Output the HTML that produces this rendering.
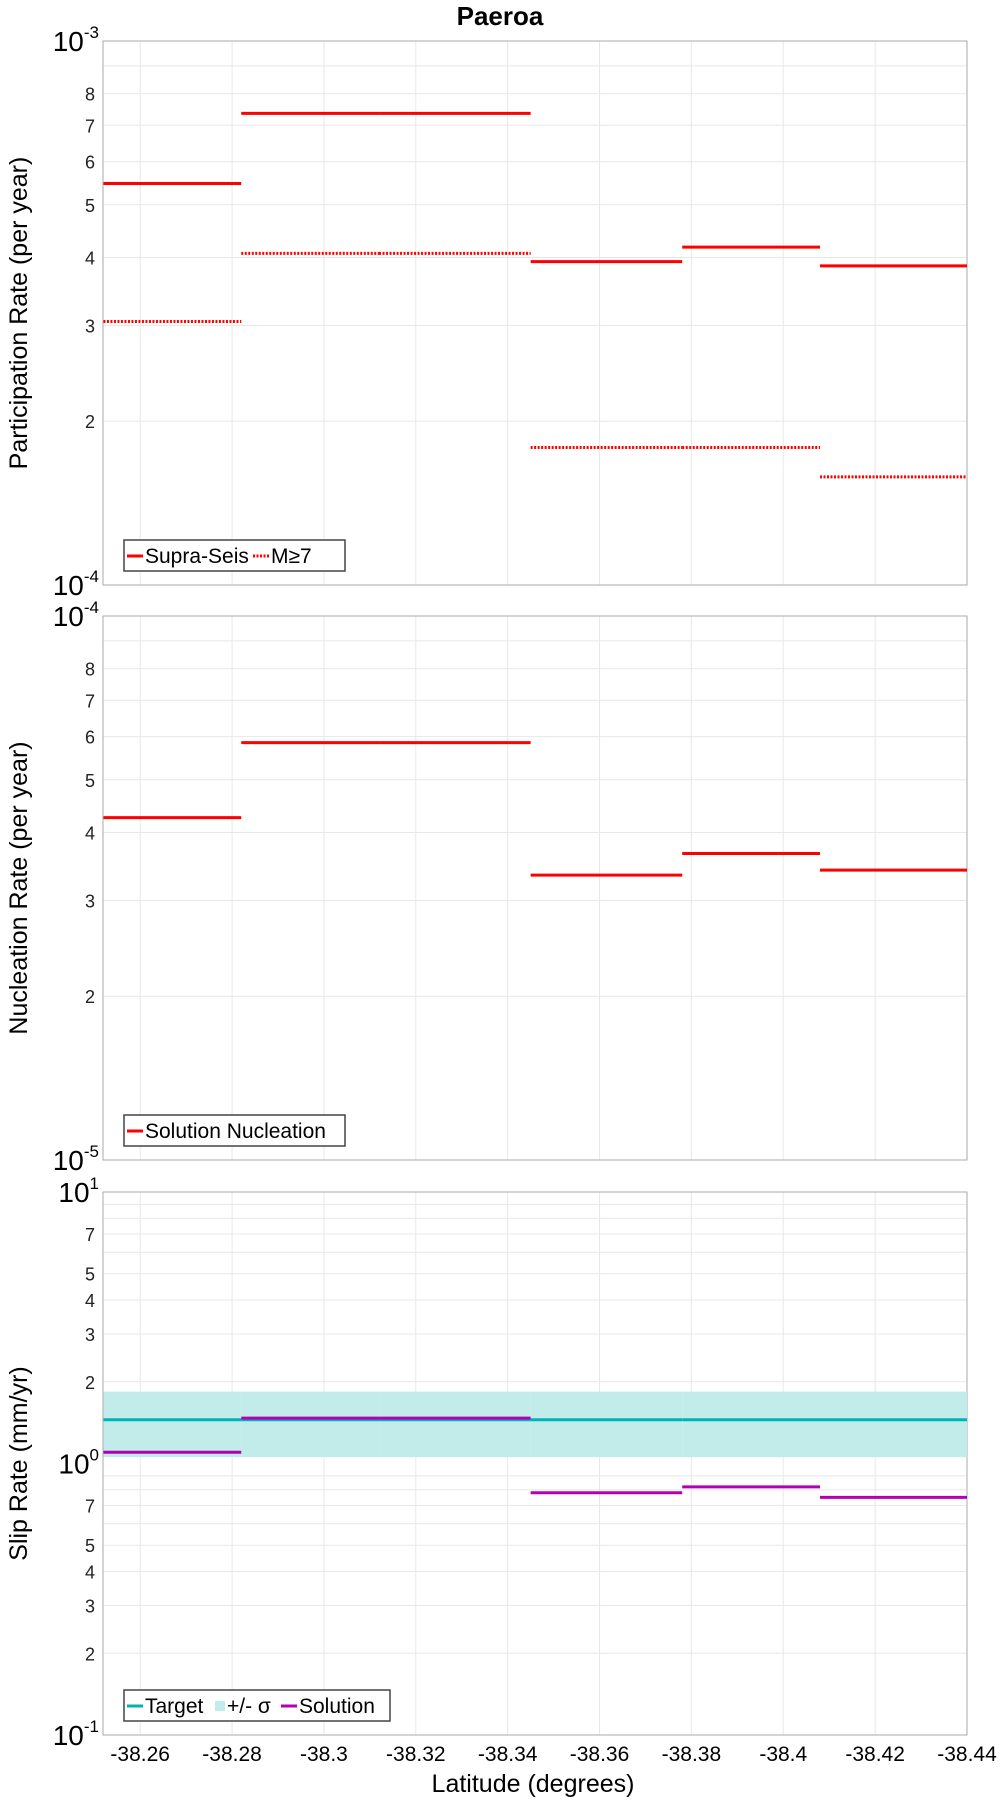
<!DOCTYPE html>
<html><head><meta charset="utf-8"><style>
body{margin:0;background:#fff}
svg{display:block;font-family:"Liberation Sans","DejaVu Sans",sans-serif}
</style></head><body>
<svg id="c" width="1000" height="1800" viewBox="0 0 1000 1800" xmlns="http://www.w3.org/2000/svg">
<text x="500" y="25" text-anchor="middle" font-size="26" font-weight="bold">Paeroa</text>
</svg>
<script>
const bounds = [-38.252, -38.282, -38.312, -38.345, -38.378, -38.408, -38.44];
const xTicks = [-38.26, -38.28, -38.3, -38.32, -38.34, -38.36, -38.38, -38.4, -38.42, -38.44];
const xTickLabels = ["-38.26","-38.28","-38.3","-38.32","-38.34","-38.36","-38.38","-38.4","-38.42","-38.44"];
const supraSeis = [5.47e-4, 7.36e-4, 7.36e-4, 3.93e-4, 4.18e-4, 3.86e-4];
const m7 = [3.05e-4, 4.07e-4, 4.07e-4, 1.79e-4, 1.79e-4, 1.58e-4];
const nucleation = [4.26e-5, 5.85e-5, 5.85e-5, 3.34e-5, 3.66e-5, 3.41e-5];
const target = [1.45, 1.45, 1.45, 1.45, 1.45, 1.45];
const sigmaLow = [1.055, 1.055, 1.055, 1.055, 1.055, 1.055];
const sigmaHigh = [1.84, 1.84, 1.84, 1.84, 1.84, 1.84];
const solution = [1.1, 1.47, 1.47, 0.78, 0.82, 0.75];

const svg = document.getElementById('c');
const NS = 'http://www.w3.org/2000/svg';
const L = 103, R = 967;
const xMin = -38.2519, xMax = -38.44;
function xs(v){ return L + (v - xMin) / (xMax - xMin) * (R - L); }
function mk(tag, attrs, parent){ const e = document.createElementNS(NS, tag); for (const k in attrs) e.setAttribute(k, attrs[k]); (parent||svg).appendChild(e); return e; }

function panel(top, bottom, dMin, dMax, labelDigits, title, name){
  const g = mk('g', {});
  
  
  const ys = v => bottom - (Math.log10(v) - dMin) / (dMax - dMin) * (bottom - top);
  for (let d = dMin; d < dMax; d++) {
    for (let m = 1; m <= 9; m++) {
      const v = m * Math.pow(10, d);
      const y = ys(v);
      if (m > 1) {
        const gl = mk('line', {x1:L, x2:R, y1:y, y2:y, stroke:'#e8e8e8', 'stroke-width':1}, g);
        
        
        if (labelDigits.includes(m)) {
          const t = mk('text', {x:L-8, y:y+7, 'text-anchor':'end', 'font-size':18, fill:'#222'}, g);
          
          
          t.textContent = m;
        }
      }
    }
  }
  for (let d = dMin; d <= dMax; d++) {
    const y = ys(Math.pow(10, d));
    const t = mk('text', {x:L-4, y:y+10, 'text-anchor':'end', 'font-size':28, fill:'#000'}, g);
    
    
    t.innerHTML = '10<tspan dy="-13" font-size="17">' + d + '</tspan>';
  }
  xTicks.forEach((v) => {
    const x = xs(v);
    const gl = mk('line', {x1:x, x2:x, y1:top, y2:bottom, stroke:'#e8e8e8', 'stroke-width':1}, g);
    
    
  });
  const fr = mk('rect', {x:L, y:top, width:R-L, height:bottom-top, fill:'none', stroke:'#aaa', 'stroke-width':1}, g);
  
  
  const cy = (top + bottom) / 2;
  const t = mk('text', {x:0, y:0, transform:`translate(27,${cy}) rotate(-90)`, 'text-anchor':'middle', 'font-size':25, fill:'#000'}, g);
  
  
  t.textContent = title;
  return {g, ys};
}
function steps(p, vals, color, dash, name){
  vals.forEach((v, i) => {
    const y = p.ys(v);
    const a = {x1:xs(bounds[i]), x2:xs(bounds[i+1]), y1:y, y2:y, stroke:color, 'stroke-width':3};
    if (dash) a['stroke-dasharray'] = '2,1.5';
    const l = mk('line', a, p.g);
    
    
  });
}
function legend(g, x, y, w, items){
  const r = mk('rect', {x:x, y:y, width:w, height:31, fill:'#fff', stroke:'#444', 'stroke-width':1.5}, g);
  
  
  let cx = x + 3;
  items.forEach(it => {
    let sw;
    if (it.band) sw = mk('rect', {x:cx, y:y+11, width:10, height:10, fill:it.color}, g);
    else { sw = mk('line', {x1:cx, x2:cx+16, y1:y+16, y2:y+16, stroke:it.color, 'stroke-width':3}, g); if (it.dash) sw.setAttribute('stroke-dasharray','2,1.5'); }
    
    
    cx += it.band ? 12 : 18;
    const t = mk('text', {x:cx, y:y+23, 'font-size':21, fill:'#000'}, g);
    
    
    t.textContent = it.label;
    cx += it.w;
  });
}

const p1 = panel(41, 585, -4, -3, [2,3,4,5,6,7,8], 'Participation Rate (per year)', 'participation-panel');
steps(p1, supraSeis, '#ff0000', false, 'supra-seis-step');
steps(p1, m7, '#ff0000', true, 'm7-step');
legend(p1.g, 124, 540, 221, [{label:'Supra-Seis', color:'#f00', w:108},{label:'M≥7', color:'#f00', dash:true, w:50}]);

const p2 = panel(616, 1160, -5, -4, [2,3,4,5,6,7,8], 'Nucleation Rate (per year)', 'nucleation-panel');
steps(p2, nucleation, '#ff0000', false, 'nucleation-step');
legend(p2.g, 124, 1115, 221, [{label:'Solution Nucleation', color:'#f00', w:200}]);

const p3 = panel(1192, 1735, -1, 1, [2,3,4,5,7], 'Slip Rate (mm/yr)', 'slip-rate-panel');
sigmaLow.forEach((v, i) => {
  const y1 = p3.ys(sigmaHigh[i]), y2 = p3.ys(v);
  const r = mk('rect', {x:xs(bounds[i]), y:y1, width:xs(bounds[i+1])-xs(bounds[i]), height:y2-y1, fill:'#c2ecea'}, p3.g);
  
  
});
steps(p3, target, '#00b4b4', false, 'target-step');
steps(p3, solution, '#b400b4', false, 'solution-step');
legend(p3.g, 124, 1690, 266, [{label:'Target', color:'#00b4b4', w:70},{label:'+/- σ', color:'#c2ecea', band:true, w:54},{label:'Solution', color:'#b400b4', w:90}]);

xTicks.forEach((v, i) => {
  const t = mk('text', {x:xs(v), y:1761, 'text-anchor':'middle', 'font-size':21, fill:'#000'});
  
  
  t.textContent = xTickLabels[i];
});
const xt = mk('text', {x:533, y:1792, 'text-anchor':'middle', 'font-size':25, fill:'#000'});


xt.textContent = 'Latitude (degrees)';
</script>
</body></html>
